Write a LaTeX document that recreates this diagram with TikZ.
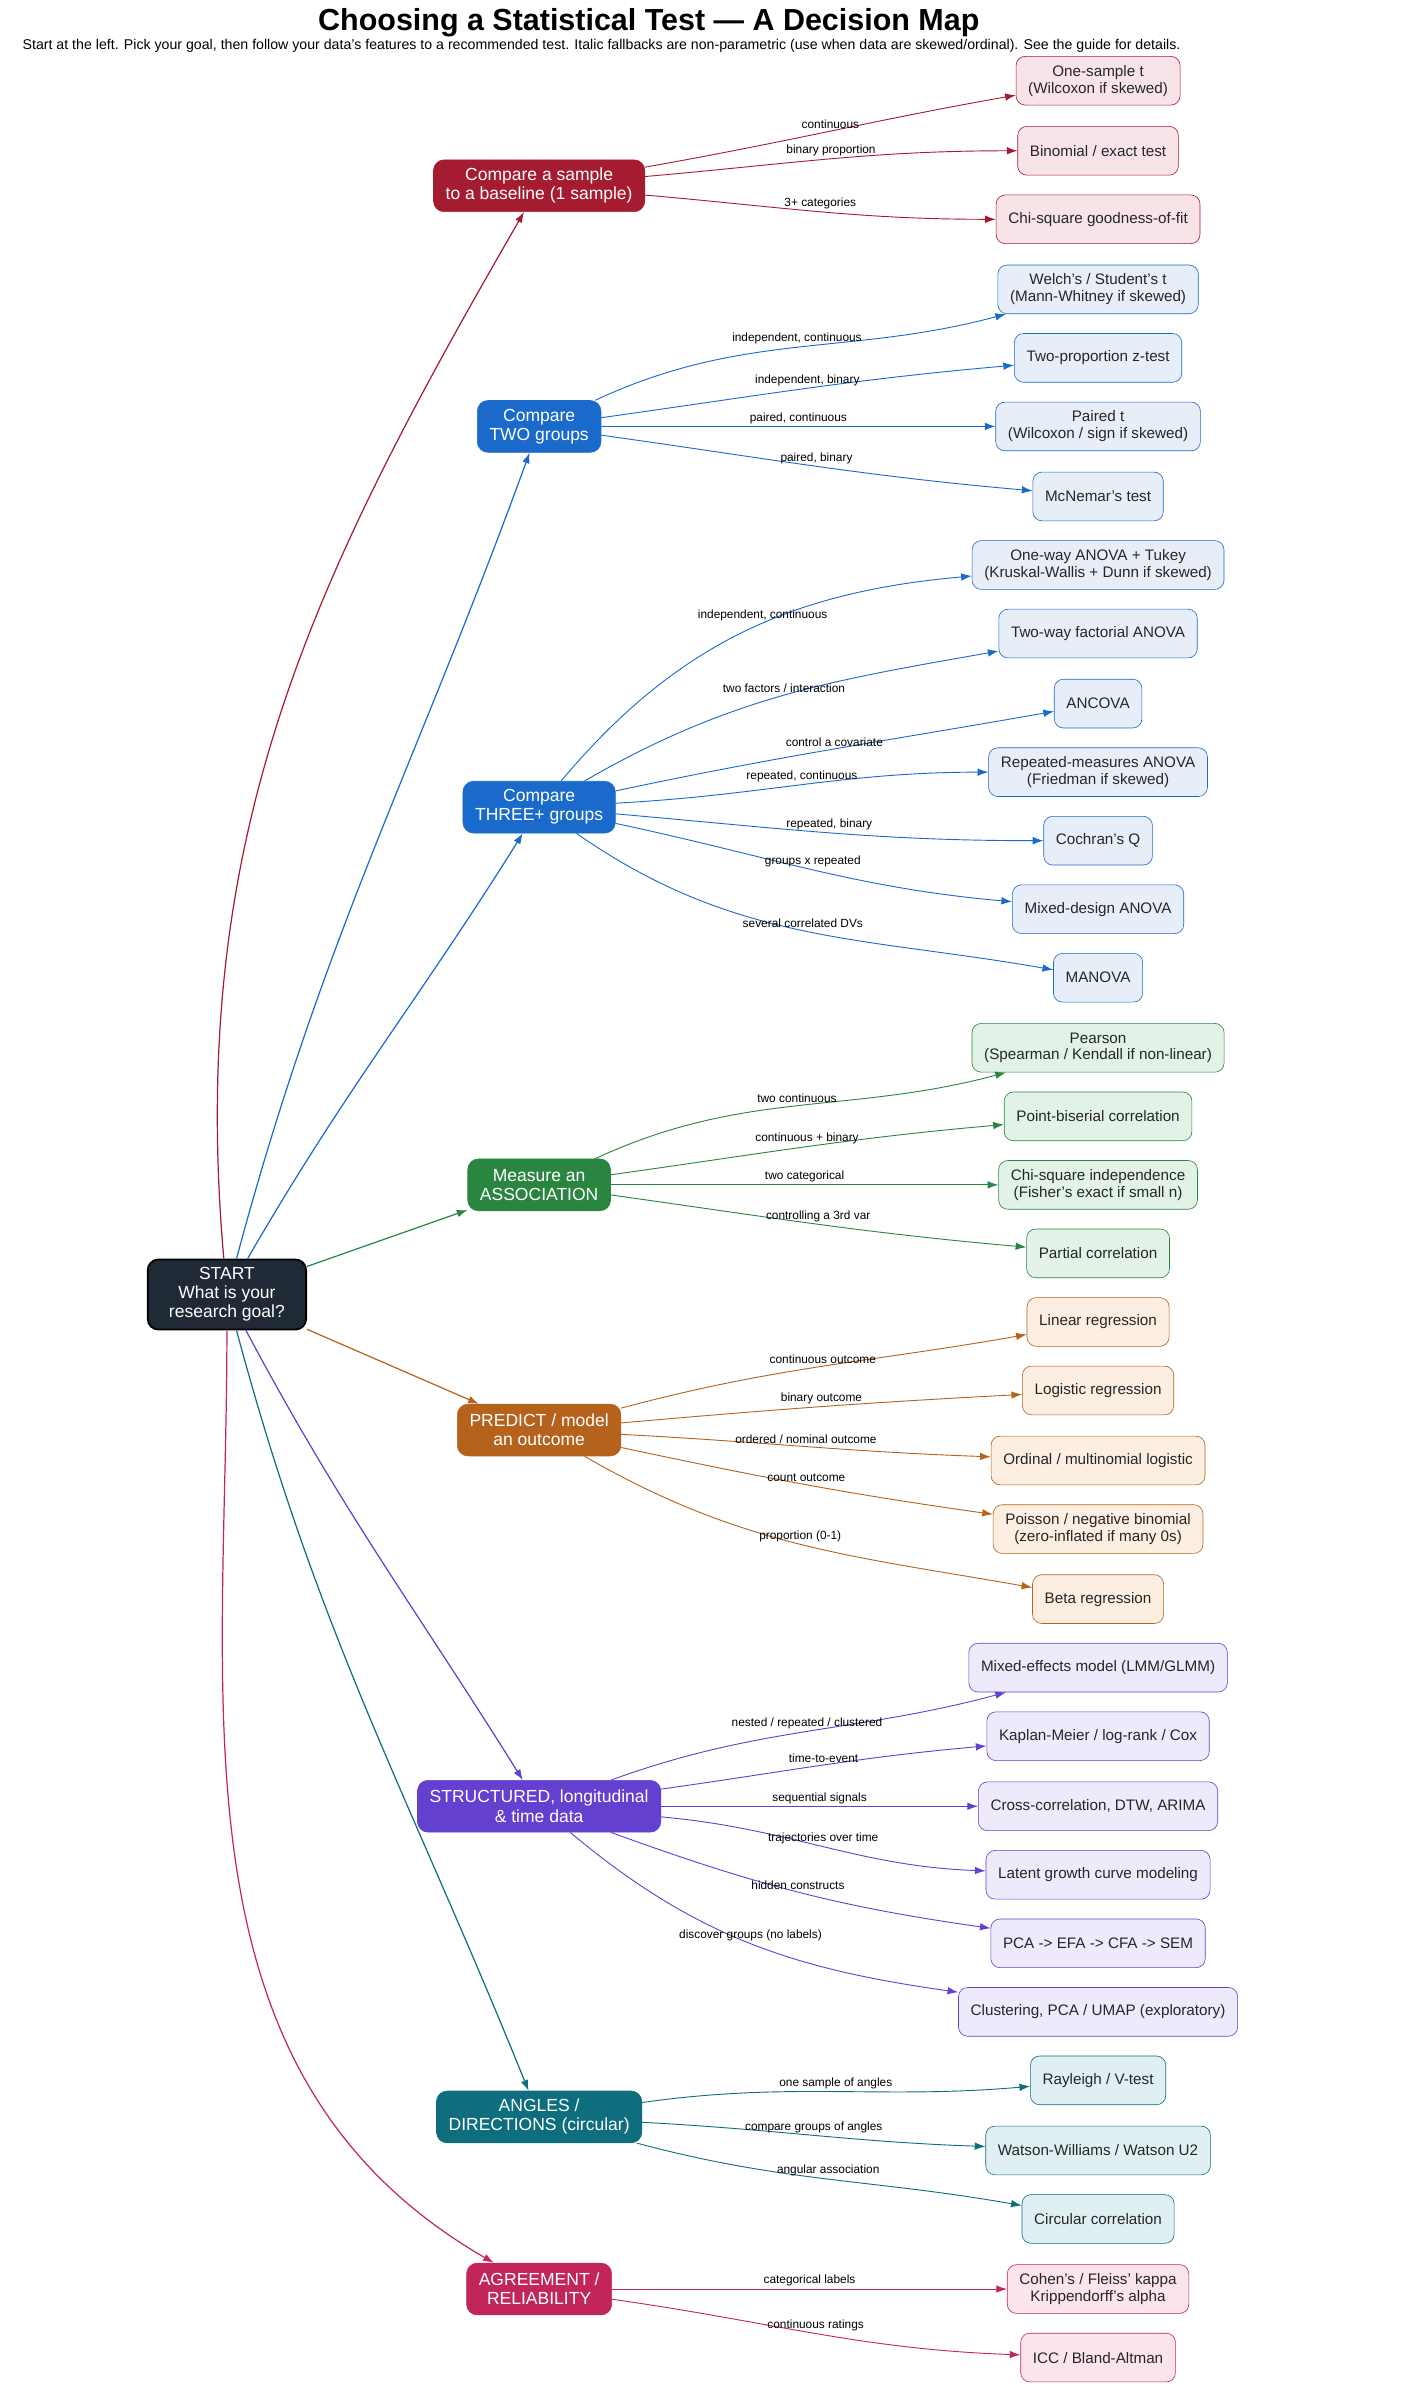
\documentclass[tikz,border=0pt]{standalone}
\usepackage{fontspec}
\setmainfont{Liberation Sans}
\usetikzlibrary{arrows.meta}
\definecolor{cRed}{HTML}{A51C30}\definecolor{fRed}{HTML}{F8E4E8}
\definecolor{cBlue}{HTML}{1A6ACB}\definecolor{fBlue}{HTML}{E8EEF8}
\definecolor{cGreen}{HTML}{2A8540}\definecolor{fGreen}{HTML}{E3F2E6}
\definecolor{cOrange}{HTML}{B5621D}\definecolor{fOrange}{HTML}{FCEFE2}
\definecolor{cPurple}{HTML}{6340D0}\definecolor{fPurple}{HTML}{EFEAFB}
\definecolor{cTeal}{HTML}{0E6E7E}\definecolor{fTeal}{HTML}{E0F0F2}
\definecolor{cPink}{HTML}{C2255C}\definecolor{fPink}{HTML}{FBE4EC}
\definecolor{cStart}{HTML}{1F2A36}
\tikzset{>={Latex[length=7pt,width=5pt]},
	cat/.style={rounded corners=7pt,fill=#1,draw=#1,text=white,align=center,
		font=\fontsize{11.5}{12.5}\selectfont,minimum height=34pt,inner xsep=8pt},
	leaf/.style 2 args={rounded corners=6pt,fill=#2,draw=#1,text=black!85,align=center,
		font=\fontsize{10}{11}\selectfont,minimum height=32pt,inner xsep=8pt},
	lbl/.style={font=\fontsize{7.8}{9}\selectfont,text=black,above,inner sep=1.5pt},
	main/.style={->,thick,draw=#1},
	br/.style={->,draw=#1,semithick},
}
\begin{document}
\begin{tikzpicture}[x=1pt,y=1pt]
	\useasboundingbox (0,0) rectangle (920,-1568);
	\node[font=\bfseries\fontsize{20}{22}\selectfont] (title) at (426,-15) {Choosing a Statistical Test — A Decision Map};
	\node[font=\fontsize{9.3}{11}\selectfont] (sub) at (395,-30) {Start at the left. Pick your goal, then follow your data's features to a recommended test. Italic fallbacks are non-parametric (use when data are skewed/ordinal). See the guide for details.};

	% start
	\node[cat=cStart,draw=black,very thick,minimum width=104pt,minimum height=46pt] (start) at (149,-850) {START\\What is your\\research goal?};

	% categories
	\node[cat=cRed] (one) at (354,-122) {Compare a sample\\to a baseline (1 sample)};
	\node[cat=cBlue] (two) at (354,-280) {Compare\\TWO groups};
	\node[cat=cBlue] (three) at (354,-530) {Compare\\THREE+ groups};
	\node[cat=cGreen] (assoc) at (354,-778) {Measure an\\ASSOCIATION};
	\node[cat=cOrange] (pred) at (354,-939) {PREDICT / model\\an outcome};
	\node[cat=cPurple] (struct) at (354,-1186) {STRUCTURED, longitudinal\\\& time data};
	\node[cat=cTeal] (angle) at (354,-1390) {ANGLES /\\DIRECTIONS (circular)};
	\node[cat=cPink] (agree) at (354,-1503) {AGREEMENT /\\RELIABILITY};

	\draw[main=cRed] (start) to[out=95,in=240] (one);
	\draw[main=cBlue] (start) to[out=75,in=250] (two);
	\draw[main=cBlue] (start) to[out=60,in=238] (three);
	\draw[main=cGreen] (start) -- (assoc);
	\draw[main=cOrange] (start) -- (pred);
	\draw[main=cPurple] (start) to[out=-62,in=122] (struct);
	\draw[main=cTeal] (start) to[out=-75,in=112] (angle);
	\draw[main=cPink] (start) to[out=-90,in=150] (agree);

	% one sample
	\node[leaf={cRed}{fRed}] (onet) at (721,-53) {One-sample t\\(Wilcoxon if skewed)};
	\node[leaf={cRed}{fRed}] (binom) at (721,-99) {Binomial / exact test};
	\node[leaf={cRed}{fRed}] (gof) at (721,-144) {Chi-square goodness-of-fit};
	\draw[br=cRed] (one) to[out=10,in=190] node[lbl] {continuous} (onet);
	\draw[br=cRed] (one) to[out=5,in=180] node[lbl] {binary proportion} (binom);
	\draw[br=cRed] (one) to[out=-5,in=180] node[lbl] {3+ categories} (gof);

	% two groups
	\node[leaf={cBlue}{fBlue}] (welch) at (721,-190) {Welch's / Student's t\\(Mann-Whitney if skewed)};
	\node[leaf={cBlue}{fBlue}] (twop) at (721,-235) {Two-proportion z-test};
	\node[leaf={cBlue}{fBlue}] (pairt) at (721,-280) {Paired t\\(Wilcoxon / sign if skewed)};
	\node[leaf={cBlue}{fBlue}] (mcn) at (721,-326) {McNemar's test};
	\draw[br=cBlue] (two) to[out=25,in=195] node[lbl] {independent, continuous} (welch);
	\draw[br=cBlue] (two) to[out=8,in=185] node[lbl] {independent, binary} (twop);
	\draw[br=cBlue] (two) -- node[lbl] {paired, continuous} (pairt);
	\draw[br=cBlue] (two) to[out=-8,in=175] node[lbl] {paired, binary} (mcn);

	% three+ groups
	\node[leaf={cBlue}{fBlue}] (anova) at (721,-371) {One-way ANOVA + Tukey\\(Kruskal-Wallis + Dunn if skewed)};
	\node[leaf={cBlue}{fBlue}] (twoway) at (721,-416) {Two-way factorial ANOVA};
	\node[leaf={cBlue}{fBlue}] (ancova) at (721,-462) {ANCOVA};
	\node[leaf={cBlue}{fBlue}] (rmanova) at (721,-507) {Repeated-measures ANOVA\\(Friedman if skewed)};
	\node[leaf={cBlue}{fBlue}] (cochran) at (721,-552) {Cochran's Q};
	\node[leaf={cBlue}{fBlue}] (mixed) at (721,-597) {Mixed-design ANOVA};
	\node[leaf={cBlue}{fBlue}] (manova) at (721,-642) {MANOVA};
	\draw[br=cBlue] (three) to[out=50,in=185] node[lbl,pos=0.55] {independent, continuous} (anova);
	\draw[br=cBlue] (three) to[out=30,in=190] node[lbl,pos=0.5] {two factors / interaction} (twoway);
	\draw[br=cBlue] (three) to[out=12,in=190] node[lbl] {control a covariate} (ancova);
	\draw[br=cBlue] (three) to[out=3,in=180] node[lbl] {repeated, continuous} (rmanova);
	\draw[br=cBlue] (three) to[out=-5,in=180] node[lbl] {repeated, binary} (cochran);
	\draw[br=cBlue] (three) to[out=-12,in=175] node[lbl] {groups x repeated} (mixed);
	\draw[br=cBlue] (three) to[out=-35,in=170] node[lbl] {several correlated DVs} (manova);

	% association
	\node[leaf={cGreen}{fGreen}] (pearson) at (721,-688) {Pearson\\(Spearman / Kendall if non-linear)};
	\node[leaf={cGreen}{fGreen}] (pbis) at (721,-733) {Point-biserial correlation};
	\node[leaf={cGreen}{fGreen}] (chiind) at (721,-778) {Chi-square independence\\(Fisher's exact if small n)};
	\node[leaf={cGreen}{fGreen}] (partial) at (721,-823) {Partial correlation};
	\draw[br=cGreen] (assoc) to[out=25,in=195] node[lbl] {two continuous} (pearson);
	\draw[br=cGreen] (assoc) to[out=8,in=185] node[lbl] {continuous + binary} (pbis);
	\draw[br=cGreen] (assoc) -- node[lbl] {two categorical} (chiind);
	\draw[br=cGreen] (assoc) to[out=-8,in=175] node[lbl] {controlling a 3rd var} (partial);

	% predict
	\node[leaf={cOrange}{fOrange}] (linreg) at (721,-868) {Linear regression};
	\node[leaf={cOrange}{fOrange}] (logreg) at (721,-913) {Logistic regression};
	\node[leaf={cOrange}{fOrange}] (ordlog) at (721,-959) {Ordinal / multinomial logistic};
	\node[leaf={cOrange}{fOrange}] (pois) at (721,-1004) {Poisson / negative binomial\\(zero-inflated if many 0s)};
	\node[leaf={cOrange}{fOrange}] (beta) at (721,-1050) {Beta regression};
	\draw[br=cOrange] (pred) to[out=15,in=190] node[lbl] {continuous outcome} (linreg);
	\draw[br=cOrange] (pred) to[out=5,in=183] node[lbl] {binary outcome} (logreg);
	\draw[br=cOrange] (pred) to[out=-3,in=178] node[lbl] {ordered / nominal outcome} (ordlog);
	\draw[br=cOrange] (pred) to[out=-12,in=172] node[lbl] {count outcome} (pois);
	\draw[br=cOrange] (pred) to[out=-30,in=170] node[lbl] {proportion (0-1)} (beta);

	% structured
	\node[leaf={cPurple}{fPurple}] (lmm) at (721,-1095) {Mixed-effects model (LMM/GLMM)};
	\node[leaf={cPurple}{fPurple}] (km) at (721,-1140) {Kaplan-Meier / log-rank / Cox};
	\node[leaf={cPurple}{fPurple}] (xcorr) at (721,-1186) {Cross-correlation, DTW, ARIMA};
	\node[leaf={cPurple}{fPurple}] (lgcm) at (721,-1231) {Latent growth curve modeling};
	\node[leaf={cPurple}{fPurple}] (pca) at (721,-1276) {PCA -> EFA -> CFA -> SEM};
	\node[leaf={cPurple}{fPurple}] (clust) at (721,-1321) {Clustering, PCA / UMAP  (exploratory)};
	\draw[br=cPurple] (struct) to[out=20,in=195] node[lbl] {nested / repeated / clustered} (lmm);
	\draw[br=cPurple] (struct) to[out=8,in=185] node[lbl] {time-to-event} (km);
	\draw[br=cPurple] (struct) -- node[lbl] {sequential signals} (xcorr);
	\draw[br=cPurple] (struct) to[out=-5,in=178] node[lbl] {trajectories over time} (lgcm);
	\draw[br=cPurple] (struct) to[out=-20,in=172] node[lbl] {hidden constructs} (pca);
	\draw[br=cPurple] (struct) to[out=-40,in=172] node[lbl] {discover groups (no labels)} (clust);

	% angles
	\node[leaf={cTeal}{fTeal}] (rayl) at (721,-1366) {Rayleigh / V-test};
	\node[leaf={cTeal}{fTeal}] (watson) at (721,-1412) {Watson-Williams / Watson U2};
	\node[leaf={cTeal}{fTeal}] (circ) at (721,-1457) {Circular correlation};
	\draw[br=cTeal] (angle) to[out=8,in=185] node[lbl] {one sample of angles} (rayl);
	\draw[br=cTeal] (angle) to[out=-3,in=178] node[lbl] {compare groups of angles} (watson);
	\draw[br=cTeal] (angle) to[out=-15,in=170] node[lbl] {angular association} (circ);

	% agreement
	\node[leaf={cPink}{fPink}] (kappa) at (721,-1503) {Cohen's / Fleiss' kappa\\Krippendorff's alpha};
	\node[leaf={cPink}{fPink}] (icc) at (721,-1548) {ICC / Bland-Altman};
	\draw[br=cPink] (agree) -- node[lbl] {categorical labels} (kappa);
	\draw[br=cPink] (agree) to[out=-8,in=178] node[lbl] {continuous ratings} (icc);
\end{tikzpicture}
\end{document}
